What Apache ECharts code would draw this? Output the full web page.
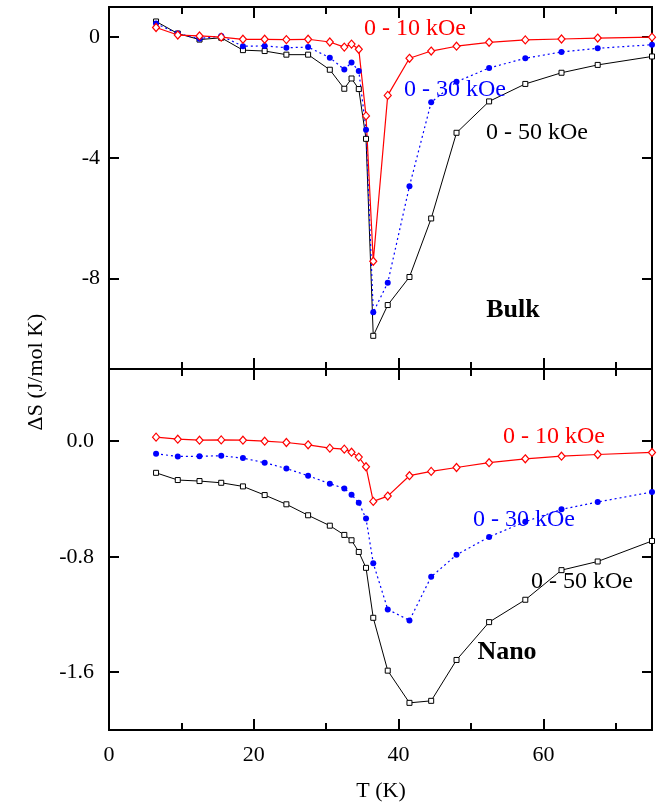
<!DOCTYPE html>
<html>
<head>
<meta charset="utf-8">
<script src="https://cdn.jsdelivr.net/npm/echarts@6/dist/echarts.min.js"></script>
<style>
  html, body { margin: 0; padding: 0; background: #fff; }
  #chart { width: 658px; height: 803px; }
</style>
</head>
<body>
<div id="chart"></div>
<script>
// temperatures (K), shared by every curve
const temps = [6.5, 9.5, 12.5, 15.5, 18.5, 21.5, 24.5, 27.5, 30.5, 32.5, 33.5, 34.5,
  35.5, 36.5, 38.5, 41.5, 44.5, 48, 52.5, 57.5, 62.5, 67.5, 75]

// bulk sample, dS in J/mol K
const bulk10 = [0.32, 0.07, 0.04, 0.0, -0.07, -0.07, -0.08, -0.07, -0.16, -0.33, -0.23, -0.40,
  -2.61, -7.43, -1.93, -0.70, -0.46, -0.30, -0.17, -0.09, -0.06, -0.03, 0.0]
const bulk30 = [0.45, 0.12, -0.05, 0.04, -0.30, -0.29, -0.35, -0.33, -0.68, -1.07, -0.84, -1.12,
  -3.07, -9.12, -8.14, -4.94, -2.16, -1.48, -1.02, -0.70, -0.49, -0.37, -0.25]
const bulk50 = [0.52, 0.12, -0.08, -0.02, -0.43, -0.46, -0.58, -0.58, -1.08, -1.71, -1.37, -1.72,
  -3.37, -9.90, -8.88, -7.95, -6.01, -3.17, -2.13, -1.55, -1.18, -0.92, -0.64]

// nano sample
const nano10 = [0.028, 0.014, 0.007, 0.009, 0.007, 0.0, -0.009, -0.025, -0.048, -0.055, -0.076, -0.110,
  -0.177, -0.417, -0.380, -0.239, -0.209, -0.182, -0.149, -0.122, -0.104, -0.092, -0.078]
const nano30 = [-0.087, -0.106, -0.104, -0.101, -0.117, -0.149, -0.189, -0.239, -0.294, -0.327, -0.370, -0.426,
  -0.536, -0.845, -1.165, -1.241, -0.939, -0.787, -0.663, -0.557, -0.472, -0.421, -0.352]
const nano50 = [-0.219, -0.269, -0.276, -0.288, -0.313, -0.373, -0.437, -0.513, -0.585, -0.649, -0.686, -0.767,
  -0.877, -1.223, -1.589, -1.812, -1.798, -1.515, -1.253, -1.098, -0.893, -0.833, -0.691]

// tick labels
const tMajorTicks = [0, 20, 40, 60]
const tMinorTicks = [10, 30, 50, 70]
const bulkTicks = [0, -4, -8]
const nanoTicks = [0, -0.8, -1.6]

const serif = '"Liberation Serif", "DejaVu Serif", serif'
const black = '#000'

function xAxis (grid, position, ticks, len, labels) {
  return {
    type: 'value',
    gridIndex: grid,
    position: position,
    min: 0,
    max: 75,
    axisLine: { show: true, onZero: false, lineStyle: { color: black, width: 2 } },
    axisTick: { show: true, inside: true, length: len, customValues: ticks, lineStyle: { color: black, width: 2 } },
    axisLabel: {
      show: labels,
      customValues: ticks,
      margin: 14,
      color: black,
      fontSize: 22,
      fontFamily: serif
    },
    splitLine: { show: false }
  }
}

function yAxis (grid, position, min, max, ticks, labels, margin, fmt) {
  return {
    type: 'value',
    gridIndex: grid,
    position: position,
    min: min,
    max: max,
    axisLine: { show: true, onZero: false, lineStyle: { color: black, width: 2 } },
    axisTick: { show: true, inside: true, length: 10, customValues: ticks, lineStyle: { color: black, width: 2 } },
    axisLabel: {
      show: labels,
      customValues: ticks,
      margin: margin,
      color: black,
      fontSize: 22,
      fontFamily: serif,
      formatter: fmt
    },
    splitLine: { show: false }
  }
}

function pairs (ys) {
  return temps.map((t, i) => [t, ys[i]])
}

function curves (xi, yi, d10, d30, d50) {
  return [
    {
      type: 'line',
      xAxisIndex: xi,
      yAxisIndex: yi,
      data: pairs(d50),
      symbol: 'rect',
      symbolSize: 5,
      lineStyle: { color: black, width: 1 },
      itemStyle: { color: '#fff', borderColor: black, borderWidth: 1 }
    },
    {
      type: 'line',
      xAxisIndex: xi,
      yAxisIndex: yi,
      data: pairs(d30),
      symbol: 'circle',
      symbolSize: 6,
      lineStyle: { color: '#0000ff', width: 1.2, type: [2, 3] },
      itemStyle: { color: '#0000ff' }
    },
    {
      type: 'line',
      xAxisIndex: xi,
      yAxisIndex: yi,
      data: pairs(d10),
      symbol: 'diamond',
      symbolSize: [7, 8],
      lineStyle: { color: '#ff0000', width: 1.2 },
      itemStyle: { color: '#fff', borderColor: '#ff0000', borderWidth: 1.2 }
    }
  ]
}

function label (text, x, y, color, size, bold) {
  return {
    type: 'text',
    x: x,
    y: y,
    z: 100,
    style: {
      text: text,
      fill: color,
      font: (bold ? 'bold ' : '') + size + 'px ' + serif,
      align: 'center',
      verticalAlign: 'middle',
      textAlign: 'center',
      textVerticalAlign: 'middle'
    }
  }
}

const chart = echarts.init(document.getElementById('chart'))

chart.setOption({
  animation: false,
  backgroundColor: '#fff',
  grid: [
    { left: 109, top: 7, width: 543, height: 362 },
    { left: 109, top: 369, width: 543, height: 361 }
  ],
  xAxis: [
    xAxis(0, 'bottom', tMajorTicks, 11, false),
    xAxis(0, 'bottom', tMinorTicks, 7, false),
    xAxis(0, 'top', tMajorTicks, 11, false),
    xAxis(0, 'top', tMinorTicks, 7, false),
    xAxis(1, 'bottom', tMajorTicks, 11, true),
    xAxis(1, 'bottom', tMinorTicks, 7, false),
    xAxis(1, 'top', tMajorTicks, 11, false),
    xAxis(1, 'top', tMinorTicks, 7, false)
  ],
  yAxis: [
    yAxis(0, 'left', -11, 1, bulkTicks, true, 9, v => String(v)),
    yAxis(0, 'right', -11, 1, bulkTicks, false, 9),
    yAxis(1, 'left', -2, 0.5, nanoTicks, true, 15, v => v.toFixed(1)),
    yAxis(1, 'right', -2, 0.5, nanoTicks, false, 15)
  ],
  series: [
    ...curves(0, 0, bulk10, bulk30, bulk50),
    ...curves(4, 2, nano10, nano30, nano50)
  ],
  graphic: [
    label('0 - 10 kOe', 415, 29, '#ff0000', 24),
    label('0 - 30 kOe', 455, 90, '#0000ff', 24),
    label('0 - 50 kOe', 537, 133, black, 24),
    label('Bulk', 513, 310, black, 26, true),
    label('0 - 10 kOe', 554, 437, '#ff0000', 24),
    label('0 - 30 kOe', 524, 520, '#0000ff', 24),
    label('0 - 50 kOe', 582, 582, black, 24),
    label('Nano', 507, 652, black, 26, true),
    label('T (K)', 381, 791, black, 22),
    Object.assign(label('ΔS (J/mol K)', 36, 372, black, 22), { rotation: Math.PI / 2 })
  ]
})
</script>
</body>
</html>
